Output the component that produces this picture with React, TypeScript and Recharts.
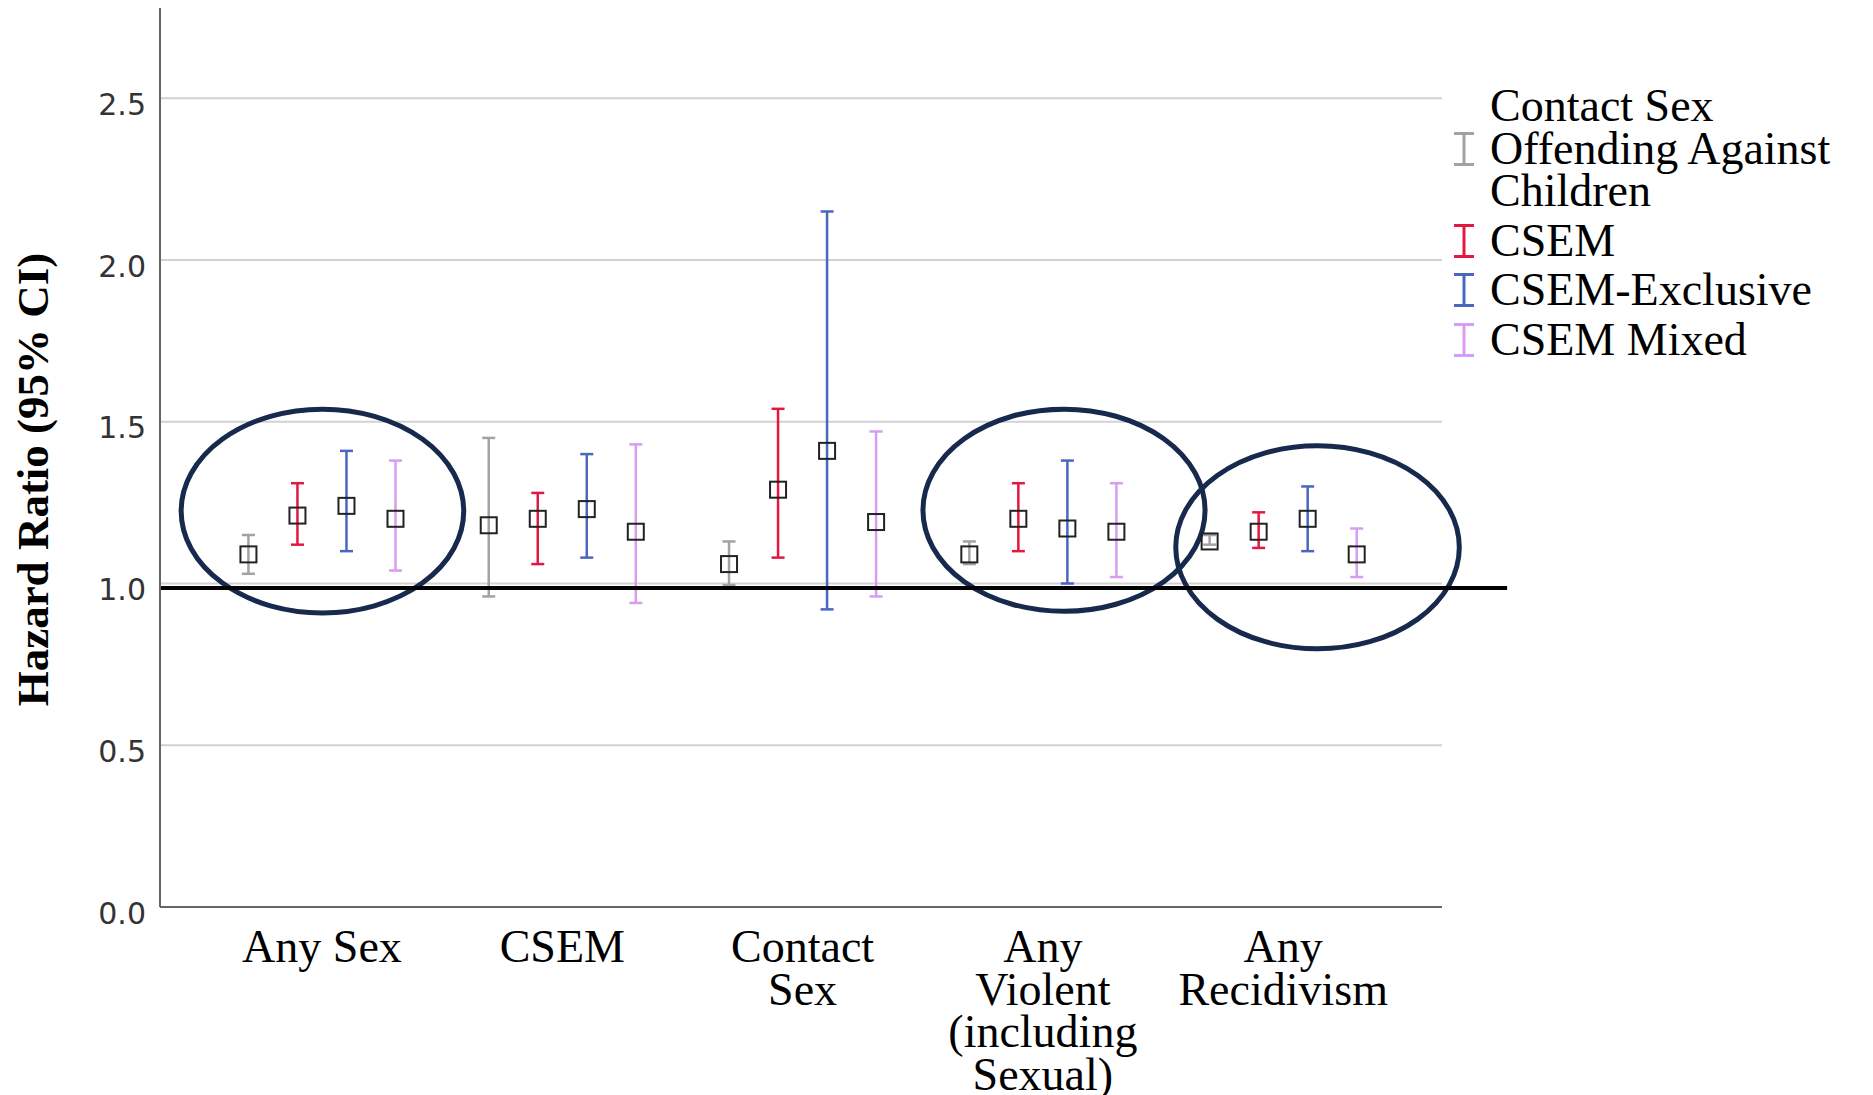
import {
  ScatterChart, Scatter, XAxis, YAxis, CartesianGrid, ErrorBar, ReferenceLine, ReferenceArea, Legend,
} from 'recharts';

const CATEGORIES = ['Any Sex', 'CSEM', 'Contact Sex', 'Any Violent (including Sexual)', 'Any Recidivism'];

const SERIES = ['Contact Sex Offending Against Children', 'CSEM', 'CSEM-Exclusive', 'CSEM Mixed'];
const COLORS = ['#a3a3a3', '#e3173f', '#4a67c0', '#d99cf0'];

// hazard ratio and 95% CI bounds, one value per outcome
const HR_CSOAC = [1.09, 1.18, 1.06, 1.09, 1.13];
const LO_CSOAC = [1.03, 0.96, 0.995, 1.06, 1.12];
const HI_CSOAC = [1.15, 1.45, 1.13, 1.13, 1.15];

const HR_CSEM = [1.21, 1.2, 1.29, 1.2, 1.16];
const LO_CSEM = [1.12, 1.06, 1.08, 1.1, 1.11];
const HI_CSEM = [1.31, 1.28, 1.54, 1.31, 1.22];

const HR_EXCL = [1.24, 1.23, 1.41, 1.17, 1.2];
const LO_EXCL = [1.1, 1.08, 0.92, 1.0, 1.1];
const HI_EXCL = [1.41, 1.4, 2.15, 1.38, 1.3];

const HR_MIXED = [1.2, 1.16, 1.19, 1.16, 1.09];
const LO_MIXED = [1.04, 0.94, 0.96, 1.02, 1.02];
const HI_MIXED = [1.38, 1.43, 1.47, 1.31, 1.17];

const Y_TICKS = [0, 0.5, 1.0, 1.5, 2.0, 2.5];
const GRID_VALUES = [0.5, 1.0, 1.5, 2.0, 2.5];
const REF_HR = 0.986; // the thick "no effect" line, drawn a hair under 1.0 in the original

// hand-drawn rings around three outcome groups (x in group units, y in HR)
const RINGS = [
  { x1: -0.586, x2: 0.59, y1: 0.909, y2: 1.539 },
  { x1: 2.501, x2: 3.675, y1: 0.914, y2: 1.539 },
  { x1: 3.553, x2: 4.733, y1: 0.798, y2: 1.426 },
];

const HR = [HR_CSOAC, HR_CSEM, HR_EXCL, HR_MIXED];
const LO = [LO_CSOAC, LO_CSEM, LO_EXCL, LO_MIXED];
const HI = [HI_CSOAC, HI_CSEM, HI_EXCL, HI_MIXED];
const OFFSETS = [-0.306, -0.102, 0.102, 0.306];

const SERIF = '"Liberation Serif", "Times New Roman", serif';
const X_DOMAIN = [-0.674, 4.661];

const seriesData = SERIES.map((_, s) =>
  CATEGORIES.map((_c, i) => ({
    x: i + OFFSETS[s],
    y: HR[s][i],
    ci: [HR[s][i] - LO[s][i], HI[s][i] - HR[s][i]],
  })),
);

let measureCtx: CanvasRenderingContext2D | null = null;
function wrapWords(label: string, maxW: number, font: string) {
  if (!measureCtx) measureCtx = document.createElement('canvas').getContext('2d');
  const ctx = measureCtx!;
  ctx.font = font;
  const lines: string[] = [];
  let cur = '';
  for (const w of label.split(' ')) {
    const t = cur ? `${cur} ${w}` : w;
    if (cur && ctx.measureText(t).width > maxW) { lines.push(cur); cur = w; } else cur = t;
  }
  if (cur) lines.push(cur);
  return lines;
}

const OpenSquare = (p: any) => (
  <rect x={p.cx - 8} y={p.cy - 8} width={16} height={16} fill="none" stroke="#222" strokeWidth={2} />
);

function CategoryTick({ x, y, payload }: any) {
  const lines = wrapWords(CATEGORIES[payload.value], 216, `46px ${SERIF}`);
  return (
    <text x={x} y={y + 55} textAnchor="middle" fill="#000" style={{ fontSize: 46, fontFamily: SERIF }}>
      {lines.map((l, i) => (
        <tspan key={i} x={x} dy={i === 0 ? 0 : 42.7}>{l}</tspan>
      ))}
    </text>
  );
}

function YTitle({ viewBox }: any) {
  const cx = viewBox.x - 12;
  const cy = viewBox.y + viewBox.height / 2 + 22;
  return (
    <text transform={`translate(${cx}, ${cy}) rotate(-90)`} textAnchor="middle"
          style={{ fontSize: 45, fontWeight: 700, fontFamily: SERIF }} fill="#000">
      Hazard Ratio (95% CI)
    </text>
  );
}

function LegendBox() {
  return (
    <div style={{ fontFamily: SERIF, fontSize: 46, color: '#000' }}>
      {SERIES.map((name, s) => {
        const c = COLORS[s];
        return (
          <div key={name} style={{ display: 'flex', alignItems: 'center', marginBottom: 7 }}>
            <svg width={22} height={34} style={{ flex: 'none', marginRight: 15 }}>
              <line x1={1} y1={1.5} x2={21} y2={1.5} stroke={c} strokeWidth={3} />
              <line x1={11} y1={1.5} x2={11} y2={32.5} stroke={c} strokeWidth={3} />
              <line x1={1} y1={32.5} x2={21} y2={32.5} stroke={c} strokeWidth={3} />
            </svg>
            <div style={{ width: 380, lineHeight: '42.5px' }}>{name}</div>
          </div>
        );
      })}
    </div>
  );
}

export default function App() {
  return (
    <div style={{ position: 'absolute', left: 0, top: 0, background: '#fff' }}>
      <ScatterChart width={1873} height={1095} margin={{ top: 8, right: 431, bottom: 8, left: 60 }}>
        <CartesianGrid horizontal vertical={false} horizontalValues={GRID_VALUES}
                       stroke="#d2d2d2" strokeWidth={2} />
        <XAxis type="number" dataKey="x" domain={X_DOMAIN} allowDataOverflow ticks={[0, 1, 2, 3, 4]}
               interval={0} height={180} tickSize={0} tickMargin={0} tick={<CategoryTick />}
               axisLine={{ stroke: '#666', strokeWidth: 2 }} />
        <YAxis type="number" dataKey="y" domain={[0, 2.779]} allowDataOverflow ticks={Y_TICKS}
               width={100} tickSize={0} tickMargin={14}
               tickFormatter={(v: number) => v.toFixed(1)}
               tick={{ fill: '#333', fontSize: 30, fontFamily: '"DejaVu Sans", sans-serif', dy: 6 }}
               axisLine={{ stroke: '#666', strokeWidth: 2 }}
               label={<YTitle />} />
        {SERIES.map((name, s) => (
          <Scatter key={name} name={name} data={seriesData[s]} fill={COLORS[s]}
                   shape={<OpenSquare />} isAnimationActive={false}>
            <ErrorBar dataKey="ci" direction="y" width={6.5} stroke={COLORS[s]} strokeWidth={2.5}
                      isAnimationActive={false} />
          </Scatter>
        ))}
        <ReferenceLine segment={[{ x: X_DOMAIN[0], y: REF_HR }, { x: 4.932, y: REF_HR }]}
                       stroke="#000" strokeWidth={4} ifOverflow="visible" />
        {RINGS.map((r, i) => (
          <ReferenceArea key={i} x1={r.x1} x2={r.x2} y1={r.y1} y2={r.y2} ifOverflow="visible"
                         shape={(p: any) => (
                           <ellipse cx={p.x + p.width / 2} cy={p.y + p.height / 2}
                                    rx={Math.abs(p.width) / 2} ry={Math.abs(p.height) / 2}
                                    fill="none" stroke="#17294d" strokeWidth={5} />
                         )} />
        ))}
        <Legend layout="vertical" align="center" verticalAlign="middle" content={<LegendBox />}
                wrapperStyle={{ left: 1453, top: 85, width: 420, right: 'auto', bottom: 'auto' }} />
      </ScatterChart>
    </div>
  );
}
